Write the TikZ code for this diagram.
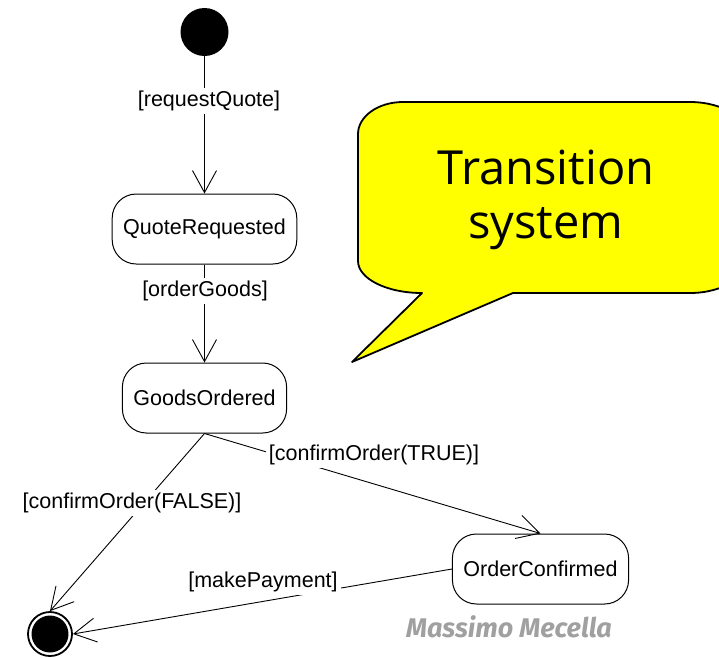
\documentclass[tikz,border=0pt]{standalone}
\usepackage{fontspec}
\setmainfont{Liberation Sans}
\newfontfamily\bubblefont{Open Sans}
\newfontfamily\signfont{Fira Sans}
\usetikzlibrary{arrows.meta}
\definecolor{bubbleyellow}{RGB}{255,255,0}
\definecolor{signgray}{RGB}{160,160,160}
\begin{document}
\begin{tikzpicture}[x=1pt,y=-1pt,
  state/.style={draw,rounded corners=24pt,line width=1pt,minimum height=70pt,
    inner xsep=11pt,font=\fontsize{21.5}{24}\selectfont},
  initstate/.style={circle,fill=black,minimum size=48pt,inner sep=0pt},
  finalstate/.style={circle,draw,line width=1.8pt,minimum size=44pt,inner sep=0pt,
    path picture={\fill[black] (path picture bounding box.center) circle (18.5pt);}},
  trans/.style={line width=0.9pt,-{Straight Barb[length=22pt,width=24pt,line width=0.9pt]}},
  guard/.style={fill=white,inner sep=3pt,font=\fontsize{21.5}{24}\selectfont}]
\clip (0,0) rectangle (719,657);
\useasboundingbox (0,0) rectangle (719,657);
% speech bubble
\filldraw[fill=bubbleyellow,line width=1.8pt,line join=round]
  (513,293) -- (690,293) arc[start angle=90,end angle=0,x radius=60,y radius=38]
  -- (750,140) arc[start angle=0,end angle=-90,x radius=60,y radius=38]
  -- (403,102) arc[start angle=-90,end angle=-180,x radius=45,y radius=32]
  -- (358,261) arc[start angle=180,end angle=90,x radius=64,y radius=32]
  -- (352,362) -- cycle;
\node[font=\bubblefont\fontsize{47}{54}\selectfont,align=center] (bubble) at (546,200) {Transition\\system};
% states
\node[initstate] (init) at (204.5,32) {};
\node[state] (quote) at (204.5,229) {QuoteRequested};
\node[state] (goods) at (204.5,398) {GoodsOrdered};
\node[state] (confirmed) at (540.5,569) {OrderConfirmed};
\node[finalstate] (final) at (50,634) {};
% transitions
\draw[trans] (init) -- (quote);
\draw[trans] (quote) -- (goods);
\draw[trans] (goods.south) -- (confirmed.north);
\draw[trans] (goods.south) -- (final.north);
\draw[trans] (confirmed.west) -- (final.east);
% guards
\node[guard] (gRequest) at (209,101) {[requestQuote]};
\node[guard] (gOrder) at (205,291) {[orderGoods]};
\node[guard] (gTrue) at (374,455) {[confirmOrder(TRUE)]};
\node[guard] (gFalse) at (132,503) {[confirmOrder(FALSE)]};
\node[guard] (gPay) at (263,582) {[makePayment]};
\node[font=\signfont\bfseries\itshape\fontsize{27}{30}\selectfont,text=signgray] (sign) at (509,627) {Massimo Mecella};
\end{tikzpicture}
\end{document}
